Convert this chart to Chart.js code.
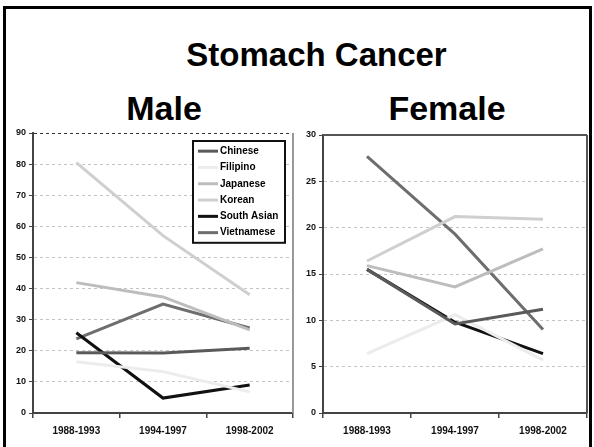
<!DOCTYPE html>
<html>
<head>
<meta charset="utf-8">
<script src="https://cdn.jsdelivr.net/npm/chart.js@4.4.1/dist/chart.umd.min.js"></script>
<style>
  html, body { margin: 0; padding: 0; background: #fff; }
  body { width: 594px; height: 447px; position: relative; overflow: hidden; font-family: "Liberation Sans", Arial, sans-serif; }
  .frame { position: absolute; left: 3px; top: 6px; width: 583px; height: 460px; border: 3px solid #000; }
  .title { position: absolute; left: 0; width: 100%; text-align: center; font-weight: bold; color: #000; white-space: nowrap; }
  .pane { position: absolute; }
</style>
</head>
<body>
<div class="frame"></div>
<div class="title" style="top:36px; left:185px; width:263px; font-size:33px;">Stomach Cancer</div>
<div class="title" style="top:89px; left:114px; width:100px; font-size:34px;">Male</div>
<div class="title" style="top:89px; left:372px; width:150px; font-size:34px;">Female</div>
<div class="pane" style="left:5px; top:122px; width:292px; height:320px;"><canvas id="male"></canvas></div>
<div class="pane" style="left:297px; top:122px; width:297px; height:320px;"><canvas id="female"></canvas></div>

<script>
// Diagnosis periods and ethnic groups
const periods = ["1988-1993", "1994-1997", "1998-2002"];
const groups = ["Chinese", "Filipino", "Japanese", "Korean", "South Asian", "Vietnamese"];
const groupColors = ["#5a5a5a", "#ececec", "#bdbdbd", "#cfcfcf", "#111111", "#6e6e6e"];

// Incidence rates per 100,000 — males
const maleChinese    = [19.4, 19.3, 20.8];
const maleFilipino   = [16.5, 13.3, 6.8];
const maleJapanese   = [41.9, 37.3, 26.7];
const maleKorean     = [80.5, 57.0, 38.0];
const maleSouthAsian = [25.8, 4.8, 9.0];
const maleVietnamese = [23.8, 35.0, 27.3];

// Incidence rates per 100,000 — females
const femaleChinese    = [15.5, 9.6, 11.2];
const femaleFilipino   = [6.4, 10.6, 5.7];
const femaleJapanese   = [15.9, 13.6, 17.7];
const femaleKorean     = [16.4, 21.2, 20.9];
const femaleSouthAsian = [15.5, 9.8, 6.4];
const femaleVietnamese = [27.7, 19.3, 9.0];

const maleSeries = [maleChinese, maleFilipino, maleJapanese, maleKorean, maleSouthAsian, maleVietnamese];
const femaleSeries = [femaleChinese, femaleFilipino, femaleJapanese, femaleKorean, femaleSouthAsian, femaleVietnamese];

const yFont = { family: "Liberation Sans", weight: "bold", size: 9 };
const xFont = { family: "Liberation Sans", weight: "bold", size: 10 };

function buildDatasets(series) {
  return series.map((vals, i) => ({
    label: groups[i],
    data: vals,
    borderColor: groupColors[i],
    backgroundColor: groupColors[i],
    borderWidth: 3,
    pointRadius: 0,
    tension: 0,
    fill: false
  }));
}

// Border lines drawn around the plotting area
const frameLines = {
  id: "frameLines",
  afterDatasetsDraw(chart, args, opts) {
    const a = chart.chartArea, c = chart.ctx;
    c.save();
    c.strokeStyle = opts.color;
    c.lineWidth = 2;
    c.beginPath();
    c.moveTo(a.right, a.top);
    c.lineTo(a.right, a.bottom);
    if (opts.top) { c.moveTo(a.left, a.top); c.lineTo(a.right, a.top); }
    c.stroke();
    c.restore();
  }
};

// Boxed legend placed inside the plotting area
const boxedLegend = {
  id: "boxedLegend",
  afterDraw(chart, args, opts) {
    if (!opts.show) return;
    const c = chart.ctx;
    const x = opts.x, y = opts.y, w = opts.w, rowH = opts.rowH;
    const items = chart.data.datasets;
    const h = rowH * items.length + 4;
    c.save();
    c.fillStyle = "#fff";
    c.fillRect(x, y, w, h);
    c.strokeStyle = "#111";
    c.lineWidth = 2;
    c.strokeRect(x, y, w, h);
    c.font = "bold 10px 'Liberation Sans'";
    c.textBaseline = "middle";
    items.forEach((ds, i) => {
      const cy = y + 2 + rowH * (i + 0.5);
      c.strokeStyle = ds.borderColor;
      c.lineWidth = 3;
      c.beginPath();
      c.moveTo(x + 5, cy);
      c.lineTo(x + 25, cy);
      c.stroke();
      c.fillStyle = "#000";
      c.fillText(ds.label, x + 27, cy);
    });
    c.restore();
  }
};

function makeChart(id, series, yMax, yStep, yWidth, pad, legendOpts, frameOpts, darkTop) {
  return new Chart(document.getElementById(id), {
    type: "line",
    data: { labels: periods, datasets: buildDatasets(series) },
    options: {
      responsive: true,
      maintainAspectRatio: false,
      animation: false,
      layout: { padding: pad },
      plugins: {
        legend: { display: false },
        tooltip: { enabled: false },
        frameLines: frameOpts,
        boxedLegend: legendOpts
      },
      scales: {
        x: {
          offset: true,
          grid: { display: true, drawOnChartArea: false, offset: true, tickLength: 5, color: "#444", lineWidth: 1.5 },
          border: { color: "#444", width: 2 },
          ticks: { font: xFont, color: "#111", padding: 7, maxRotation: 0 },
          afterFit(s) { s.height = 29; }
        },
        y: {
          min: 0,
          max: yMax,
          ticks: { stepSize: yStep, font: yFont, color: "#111", padding: 3 },
          grid: {
            color: (ctx) => (darkTop && ctx.tick && ctx.tick.value === yMax) ? "#333" : "#c4c4c4",
            tickColor: "#444",
            tickLength: 4,
            lineWidth: 1
          },
          // dash applies to the horizontal grid lines
          border: { color: "#444", width: 2, dash: [3, 3] },
          afterFit(s) { s.width = yWidth; }
        }
      }
    },
    plugins: [frameLines, boxedLegend]
  });
}

makeChart("male", maleSeries, 90, 10, 28,
  { top: 11, right: 4, left: 0, bottom: 0 },
  { show: true, x: 188, y: 19, w: 92, rowH: 16.3 },
  { color: "#999", top: false }, true);

makeChart("female", femaleSeries, 30, 5, 26,
  { top: 13, right: 7, left: 0, bottom: 0 },
  { show: false },
  { color: "#555", top: true }, false);
</script>
</body>
</html>
